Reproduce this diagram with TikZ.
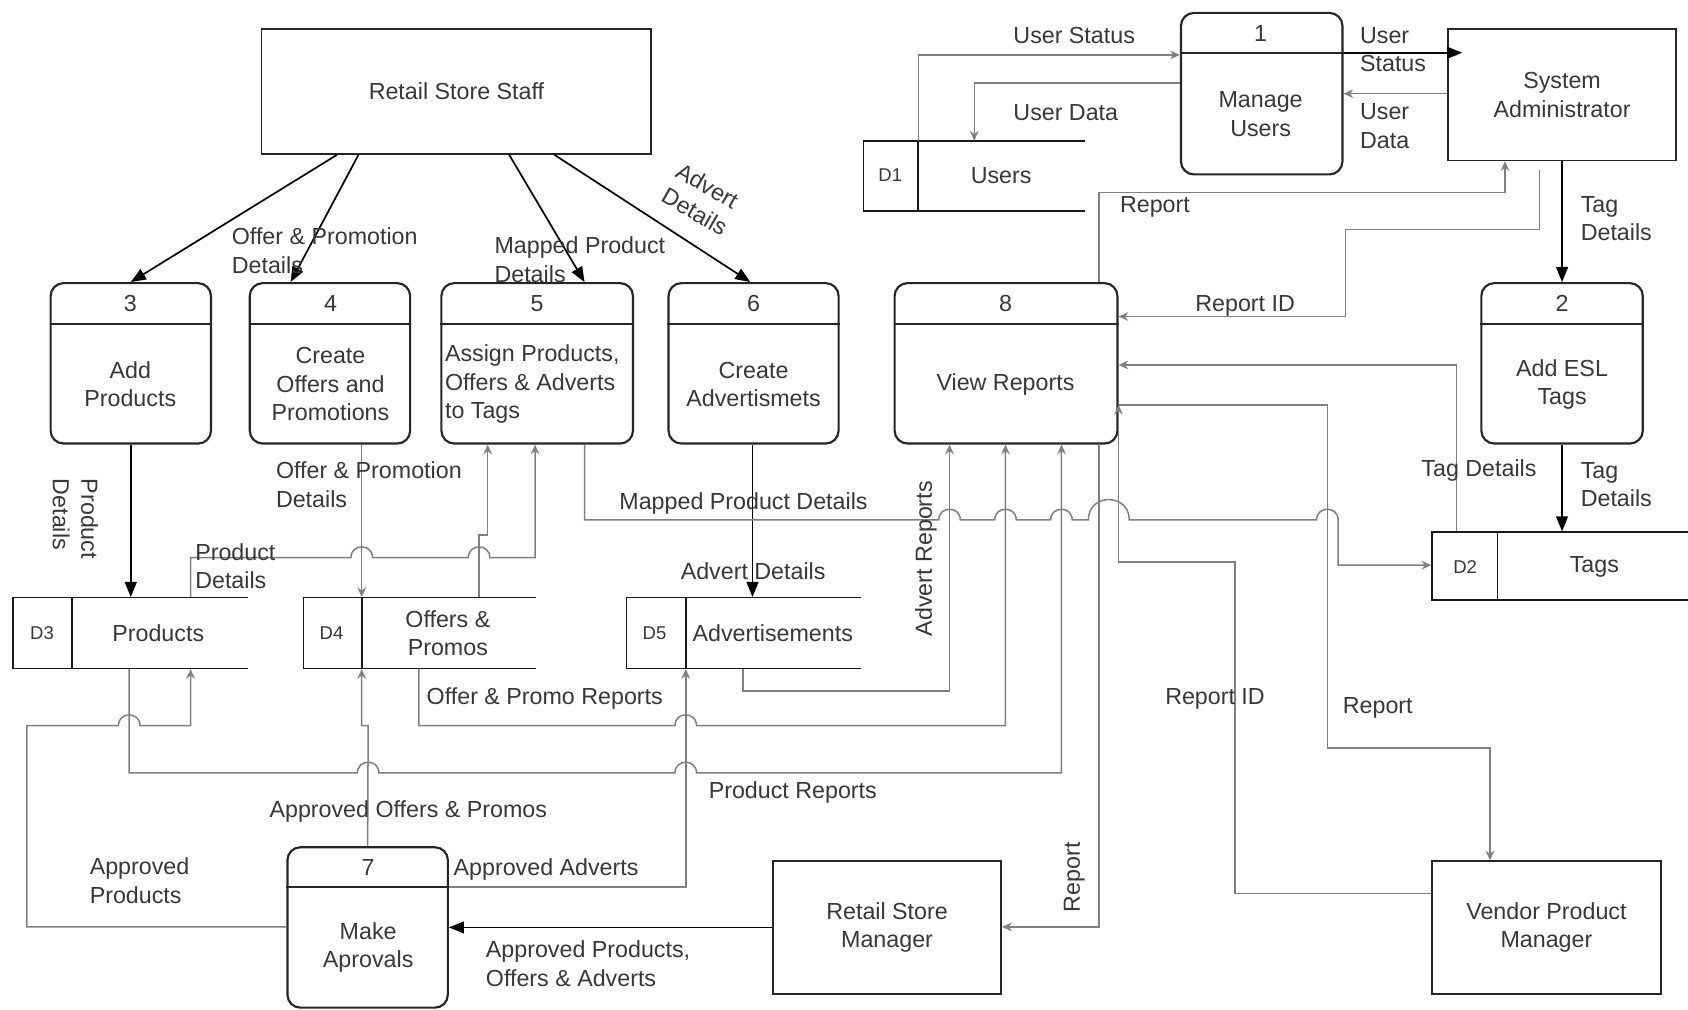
\documentclass[tikz,border=0pt]{standalone}
\usepackage{fontspec}
\setmainfont{Liberation Sans}
\usetikzlibrary{arrows.meta,fit}

% a semicircular hop of a horizontal flow line over a vertical one:
% #1 = x of the crossing, #2 = y of the line, #3 = half width
\newcommand{\hopover}[3]{-- ({#1-#3},#2) .. controls ({#1-#3},{#2-1.33*#3}) and ({#1+#3},{#2-1.33*#3}) .. ({#1+#3},#2)}

\begin{document}
\begin{tikzpicture}[x=0.5pt,y=-0.5pt,
  font=\fontsize{10.8}{13.25}\selectfont,
  txt/.style={text=black!78, inner sep=0pt},
  lbl/.style={txt, anchor=west, align=left},
  sid/.style={txt, font=\fontsize{8.6}{10}\selectfont},
  ent/.style={draw=black!85, line width=0.8pt, inner sep=0pt},
  proc/.style={draw=black!85, line width=1pt, rounded corners=6pt, inner sep=0pt},
  hdr/.style={draw=black!85, line width=1pt},
  store/.style={draw=black!90, line width=0.8pt},
  blk/.style={draw=black, line width=0.8pt, -{Triangle[length=7pt,width=5.5pt]}},
  gry/.style={draw=black!50, line width=0.7pt, -{Stealth[length=4.5pt,width=4pt]}},
]
\fill[white] (0,0) rectangle (1568,938);
\useasboundingbox (0,0) rectangle (1568,938);

% ---------- external entities ----------
\node[ent, fit={(243,27)(605,143)}] (staff) {};
\node[txt] at (staff.center) {Retail Store Staff};
\node[ent, fit={(1345,27)(1557,149)}] (admin) {};
\node[txt, align=center] at (admin.center) {System\\Administrator};
\node[ent, fit={(718,800)(930,923)}] (rsm) {};
\node[txt, align=center] at (rsm.center) {Retail Store\\Manager};
\node[ent, fit={(1330,800)(1543,923)}] (vpm) {};
\node[txt, align=center] at (vpm.center) {Vendor Product\\Manager};

% ---------- processes ----------
\node[proc, fit={(1097,12)(1247,162)}] (p1) {};
\draw[hdr] (p1.west |- 0,49) -- (p1.east |- 0,49);
\node[txt] at (1171,31) {1};
\node[txt, align=center] at (1171,106) {Manage\\Users};

\node[proc, fit={(1376,263)(1526,412)}] (p2) {};
\draw[hdr] (p2.west |- 0,301) -- (p2.east |- 0,301);
\node[txt] at (1451,282) {2};
\node[txt, align=center] at (1451,357) {Add ESL\\Tags};

\node[proc, fit={(47,263)(196,412)}] (p3) {};
\draw[hdr] (p3.west |- 0,301) -- (p3.east |- 0,301);
\node[txt] at (121,282) {3};
\node[txt, align=center] at (121,357) {Add\\Products};

\node[proc, fit={(232,263)(381,412)}] (p4) {};
\draw[hdr] (p4.west |- 0,301) -- (p4.east |- 0,301);
\node[txt] at (307,282) {4};
\node[txt, align=center] at (307,357) {Create\\Offers and\\Promotions};

\node[proc, fit={(410,263)(588,412)}] (p5) {};
\draw[hdr] (p5.west |- 0,301) -- (p5.east |- 0,301);
\node[txt] at (499,282) {5};
\node[txt, anchor=west, align=left] at (413,357) {Assign Products,\\Offers \& Adverts\\to Tags};

\node[proc, fit={(621,263)(779,412)}] (p6) {};
\draw[hdr] (p6.west |- 0,301) -- (p6.east |- 0,301);
\node[txt] at (700,282) {6};
\node[txt, align=center] at (700,357) {Create\\Advertismets};

\node[proc, fit={(267,787)(416,936)}] (p7) {};
\draw[hdr] (p7.west |- 0,824) -- (p7.east |- 0,824);
\node[txt] at (342,806) {7};
\node[txt, align=center] at (342,880) {Make\\Aprovals};

\node[proc, fit={(831,263)(1038,412)}] (p8) {};
\draw[hdr] (p8.west |- 0,301) -- (p8.east |- 0,301);
\node[txt] at (934,282) {8};
\node[txt] at (934,357) {View Reports};

% ---------- data stores ----------
\node[fit={(802,131)(1008,196)}, inner sep=0pt] (d1) {};
\draw[store] (1008,131) -- (802,131) -- (802,196) -- (1008,196) (853,131) -- (853,196);
\node[sid] at (827,163) {D1};
\node[txt] at (930,163) {Users};

\node[fit={(1330,494)(1568,557)}, inner sep=0pt] (d2) {};
\draw[store] (1568,494) -- (1330,494) -- (1330,557) -- (1568,557) (1391,494) -- (1391,557);
\node[sid] at (1361,527) {D2};
\node[txt] at (1481,527) {Tags};

\node[fit={(12,555)(230,621)}, inner sep=0pt] (d3) {};
\draw[store] (230,555) -- (12,555) -- (12,621) -- (230,621) (67,555) -- (67,621);
\node[sid] at (39,588) {D3};
\node[txt] at (147,588) {Products};

\node[fit={(282,555)(498,621)}, inner sep=0pt] (d4) {};
\draw[store] (498,555) -- (282,555) -- (282,621) -- (498,621) (336,555) -- (336,621);
\node[sid] at (308,588) {D4};
\node[txt, align=center] at (416,588) {Offers \&\\Promos};

\node[fit={(582,555)(800,621)}, inner sep=0pt] (d5) {};
\draw[store] (800,555) -- (582,555) -- (582,621) -- (800,621) (637,555) -- (637,621);
\node[sid] at (608,588) {D5};
\node[txt, anchor=west] at (643,588) {Advertisements};

% ---------- main flows (black) ----------
\draw[blk] (staff.south -| 313,0) -- (p3.north);
\draw[blk] (staff.south -| 333,0) -- (p4.north -| 270,0);
\draw[blk] (staff.south -| 473,0) -- (p5.north -| 543,0);
\draw[blk] (staff.south -| 515,0) -- (p6.north -| 697,0);
\draw[blk] (p3.south) -- (d3.north -| p3.south);
\draw[blk] (p6.south -| 699,0) -- (d5.north -| 699,0);
\draw[blk, shorten >=-7pt] (p1.east |- 0,49) -- (admin.west |- 0,49);
\draw[blk] (admin.south) -- (p2.north);
\draw[blk] (p2.south) -- (d2.north -| p2.south);
\draw[blk] (rsm.west) -- (p7.east |- rsm.west);

% ---------- secondary flows (grey) ----------
\draw[gry] (d1.north -| 853,0) |- (p1.west |- 0,51);
\draw[gry] (p1.west |- 0,77) -| (d1.north -| 905,0);
\draw[gry] (admin.west |- 0,87) -- (p1.east |- 0,87);
\draw[gry] (p8.north -| 1021,0) |- (1300,179) -| (admin.south -| 1398,0);
\coordinate (ridtop) at (1430,158);
\draw[gry] (ridtop) |- (1250,213) |- (p8.east |- 0,294);
\draw[gry] (d2.north -| 1353,0) |- (p8.east |- 0,339);

\draw[gry] (p5.south -| 543,0) -- (543,483)
  \hopover{882}{483}{10} \hopover{934}{483}{10} \hopover{986}{483}{10}
  \hopover{1030}{483}{19} \hopover{1233}{483}{10}
  -- (1243,483) -- (1243,525) -- (d2.west |- 0,525);

\draw[gry] (p4.south -| 336,0) -- (d4.north -| 336,0);
\draw[gry] (d3.north -| 177,0) -- (177,518) \hopover{336}{518}{10} \hopover{445}{518}{10}
  -- (497,518) -- (p5.south -| 497,0);
\draw[gry] (d4.north -| 445,0) -- (445,497) -- (453,497) -- (p5.south -| 453,0);

\draw[gry] (d5.south -| 690,0) |- (882,642) -- (p8.south -| 882,0);
\draw[gry] (d4.south -| 389,0) -- (389,674) \hopover{637}{674}{10} -- (934,674) -- (p8.south -| 934,0);
\draw[gry] (d3.south -| 120,0) -- (120,718) \hopover{342}{718}{10} \hopover{637}{718}{10}
  -- (986,718) -- (p8.south -| 986,0);

\draw[gry] (p7.west |- 0,861) -- (25,861) -- (25,674) \hopover{120}{674}{10} -- (177,674) -- (d3.south -| 177,0);
\draw[gry] (p7.north) -- (342,674) -- (336,674) -- (d4.south -| 336,0);
\draw[gry] (p7.east |- 0,824) -| (d5.south -| 637,0);

\draw[gry] (p8.south -| 1021,0) |- (rsm.east |- 0,861);
\draw[gry] (vpm.west |- 0,830) -| (1147,522) -| (p8.east |- 0,376);
\draw[gry] (p8.east |- 0,376) -| (1233,695) -| (vpm.north -| 1384,0);

% ---------- flow labels ----------
\node[lbl] at (941,33) {User Status};
\node[lbl] at (941,105) {User Data};
\node[lbl] at (1263,46) {User\\Status};
\node[lbl] at (1263,117) {User\\Data};
\node[lbl] at (1040,192) {Report};
\node[lbl] at (1110,284) {Report ID};
\node[lbl] at (1468,203) {Tag\\Details};
\node[lbl] at (1320,437) {Tag Details};
\node[lbl] at (1468,450) {Tag\\Details};
\node[lbl] at (215,233) {Offer \& Promotion\\Details};
\node[lbl] at (459,241) {Mapped Product\\Details};
\node[txt, align=left, rotate=-30] at (652,185) {Advert\\Details};
\node[txt, align=left, rotate=-90] at (70,482) {Product\\Details};
\node[lbl] at (256,450) {Offer \& Promotion\\Details};
\node[lbl] at (181,526) {Product\\Details};
\node[lbl] at (575,468) {Mapped Product Details};
\node[lbl] at (632,531) {Advert Details};
\node[txt, rotate=90] at (860,519) {Advert Reports};
\node[lbl] at (396,649) {Offer \& Promo Reports};
\node[lbl] at (658,736) {Product Reports};
\node[lbl] at (250,754) {Approved Offers \& Promos};
\node[lbl] at (83,818) {Approved\\Products};
\node[lbl] at (421,808) {Approved Adverts};
\node[lbl] at (451,895) {Approved Products,\\Offers \& Adverts};
\node[lbl] at (1082,649) {Report ID};
\node[lbl] at (1247,658) {Report};
\node[txt, rotate=90] at (998,815) {Report};
\end{tikzpicture}
\end{document}
